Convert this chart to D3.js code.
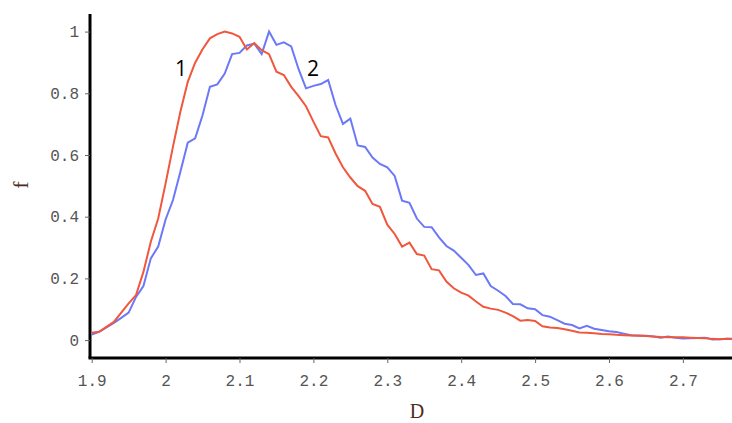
<!DOCTYPE html>
<html>
<head>
<meta charset="utf-8">
<script src="https://cdn.jsdelivr.net/npm/d3@7"></script>
<style>
  body { margin: 0; background: #fff; }
  .tick text { font-family: "Liberation Mono", "DejaVu Sans Mono", monospace; font-size: 16px; fill: #555; }
</style>
</head>
<body>
<svg id="myGraph" width="732" height="423"></svg>
<script>
// D values (x)
var dValues = [1.90, 1.91, 1.92, 1.93, 1.94, 1.95, 1.96, 1.97, 1.98, 1.99,
               2.00, 2.01, 2.02, 2.03, 2.04, 2.05, 2.06, 2.07, 2.08, 2.09,
               2.10, 2.11, 2.12, 2.13, 2.14, 2.15, 2.16, 2.17, 2.18, 2.19,
               2.20, 2.21, 2.22, 2.23, 2.24, 2.25, 2.26, 2.27, 2.28, 2.29,
               2.30, 2.31, 2.32, 2.33, 2.34, 2.35, 2.36, 2.37, 2.38, 2.39,
               2.40, 2.41, 2.42, 2.43, 2.44, 2.45, 2.46, 2.47, 2.48, 2.49,
               2.50, 2.51, 2.52, 2.53, 2.54, 2.55, 2.56, 2.57, 2.58, 2.59,
               2.60, 2.61, 2.62, 2.63, 2.64, 2.65, 2.66, 2.67, 2.68, 2.69,
               2.70, 2.71, 2.72, 2.73, 2.74, 2.75, 2.76, 2.77];

// curve 1 (red)
var series1 = [0.024, 0.027, 0.043, 0.059, 0.089, 0.119, 0.146, 0.221, 0.319, 0.394,
               0.508, 0.627, 0.740, 0.837, 0.899, 0.943, 0.978, 0.992, 1.000, 0.994,
               0.983, 0.942, 0.963, 0.940, 0.927, 0.870, 0.859, 0.821, 0.791, 0.758,
               0.708, 0.661, 0.657, 0.605, 0.560, 0.527, 0.499, 0.484, 0.441, 0.432,
               0.374, 0.344, 0.303, 0.316, 0.279, 0.274, 0.230, 0.226, 0.190, 0.168,
               0.154, 0.144, 0.125, 0.108, 0.102, 0.098, 0.089, 0.078, 0.063, 0.065,
               0.062, 0.045, 0.041, 0.039, 0.035, 0.030, 0.025, 0.024, 0.022, 0.020,
               0.019, 0.017, 0.016, 0.015, 0.014, 0.013, 0.012, 0.010, 0.009, 0.009,
               0.009, 0.008, 0.007, 0.006, 0.004, 0.003, 0.004, 0.004];

// curve 2 (blue)
var series2 = [0.018, 0.027, 0.041, 0.056, 0.072, 0.089, 0.140, 0.175, 0.265, 0.303,
               0.391, 0.454, 0.546, 0.640, 0.654, 0.729, 0.821, 0.829, 0.864, 0.927,
               0.931, 0.955, 0.961, 0.927, 1.000, 0.957, 0.965, 0.952, 0.878, 0.816,
               0.824, 0.830, 0.843, 0.762, 0.701, 0.718, 0.631, 0.626, 0.592, 0.571,
               0.560, 0.532, 0.452, 0.445, 0.394, 0.367, 0.366, 0.333, 0.305, 0.290,
               0.267, 0.243, 0.211, 0.216, 0.175, 0.160, 0.143, 0.117, 0.116, 0.103,
               0.100, 0.081, 0.076, 0.065, 0.053, 0.049, 0.038, 0.046, 0.037, 0.033,
               0.029, 0.026, 0.021, 0.016, 0.015, 0.014, 0.012, 0.008, 0.012, 0.008,
               0.005, 0.006, 0.007, 0.008, 0.002, 0.003, 0.004, 0.003];

var xTicks = [1.9, 2.0, 2.1, 2.2, 2.3, 2.4, 2.5, 2.6, 2.7];
var yTicks = [0, 0.2, 0.4, 0.6, 0.8, 1];

var svg = d3.select("#myGraph");

var xScale = d3.scaleLinear()
    .domain([1.9, 2.77])
    .range([91.7, 734.6]);

var yScale = d3.scaleLinear()
    .domain([-0.058, 1.057])
    .range([358, 14]);

// axes
var xAxis = svg.append("g")
    .attr("transform", "translate(0,358)")
    .call(d3.axisBottom(xScale)
        .tickValues(xTicks)
        .tickSize(5)
        .tickPadding(12)
        .tickFormat(function(d) { return d3.format("")(+d.toFixed(1)); }));

var yAxis = svg.append("g")
    .attr("transform", "translate(90,0)")
    .call(d3.axisLeft(yScale)
        .tickValues(yTicks)
        .tickSize(5)
        .tickPadding(6)
        .tickFormat(function(d) { return d3.format("")(+d.toFixed(1)); }));

svg.selectAll(".domain")
    .attr("stroke", "#000")
    .attr("stroke-width", 3);
svg.selectAll(".tick line")
    .attr("stroke", "#666");

// y axis line should run to the x axis
yAxis.select(".domain").attr("d", "M0,14V358");
xAxis.select(".domain").attr("d", "M88.5,0H734.6");

// lines
var line1 = d3.line()
    .x(function(d, i) { return xScale(dValues[i]); })
    .y(function(d) { return yScale(d); });

svg.append("path")
    .datum(series2)
    .attr("fill", "none")
    .attr("stroke", "#6b78f7")
    .attr("stroke-width", 2)
    .attr("d", line1);

svg.append("path")
    .datum(series1)
    .attr("fill", "none")
    .attr("stroke", "#f0573d")
    .attr("stroke-width", 2)
    .attr("d", line1);

// curve numbers
svg.append("text")
    .attr("x", 181).attr("y", 76)
    .attr("text-anchor", "middle")
    .style("font-family", "'Open Sans', 'Noto Sans', sans-serif")
    .style("font-size", "21px")
    .text("1");

svg.append("text")
    .attr("x", 313).attr("y", 76)
    .attr("text-anchor", "middle")
    .style("font-family", "'Open Sans', 'Noto Sans', sans-serif")
    .style("font-size", "21px")
    .text("2");

// axis titles
svg.append("text")
    .attr("transform", "translate(28,185) rotate(-90)")
    .attr("text-anchor", "middle")
    .style("font-family", "'Liberation Serif', 'DejaVu Serif', serif")
    .style("font-size", "22px")
    .style("fill", "#4d2a22")
    .text("f");

svg.append("text")
    .attr("x", 417).attr("y", 418)
    .attr("text-anchor", "middle")
    .style("font-family", "'Liberation Serif', 'DejaVu Serif', serif")
    .style("font-size", "20px")
    .style("fill", "#4d2a22")
    .text("D");
</script>
</body>
</html>
